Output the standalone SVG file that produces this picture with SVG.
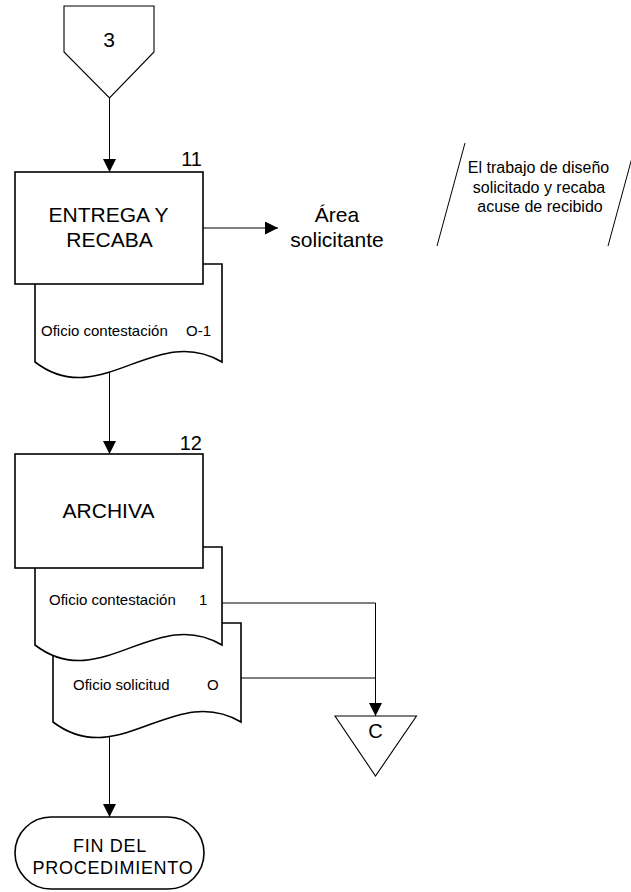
<svg xmlns="http://www.w3.org/2000/svg" width="631" height="892" viewBox="0 0 631 892">
  <style>
    text { font-family: "Liberation Sans", Arial, sans-serif; fill: #000; }
    .shape { fill: #fff; stroke: #000; stroke-width: 1.6; }
    .thin { fill: #fff; stroke: #000; stroke-width: 1.1; }
    .line { fill: none; stroke: #000; stroke-width: 1; }
    .big { font-size: 21px; text-anchor: middle; }
    .num { font-size: 20px; text-anchor: end; }
    .doc { font-size: 15px; }
    .note { font-size: 16px; text-anchor: middle; }
    .term { font-size: 18px; text-anchor: middle; letter-spacing: 0.7px; }
  </style>
  <defs>
    <marker id="arrow" markerUnits="userSpaceOnUse" markerWidth="14" markerHeight="14" refX="13" refY="6.5" orient="auto">
      <path d="M0,0 L13,6.5 L0,13 Z" fill="#000"/>
    </marker>
  </defs>

  <!-- connectors -->
  <g id="connectors">
    <line class="line" x1="109.5" y1="98" x2="109.5" y2="172" marker-end="url(#arrow)"/>
    <line class="line" x1="203" y1="228" x2="278" y2="228" marker-end="url(#arrow)"/>
    <line class="line" x1="109.5" y1="370" x2="109.5" y2="454" marker-end="url(#arrow)"/>
    <polyline class="line" points="222,603 375.5,603 375.5,716" marker-end="url(#arrow)"/>
    <line class="line" x1="241" y1="678" x2="375.5" y2="678"/>
    <line class="line" x1="109.5" y1="733" x2="109.5" y2="817" marker-end="url(#arrow)"/>
  </g>

  <!-- off-page connector 3 -->
  <g id="offpage-3">
    <polygon class="thin" points="64,6 154,6 154,52 109.5,98 64,52"/>
    <text class="big" x="109" y="47">3</text>
  </g>

  <!-- step 11 with its document -->
  <g id="doc-oficio-contestacion-o1">
    <path class="shape" d="M35,264 H222 V362 C155,322 100,412 35,362 Z"/>
    <text class="doc" x="41" y="336">Oficio contestación</text>
    <text class="doc" x="186" y="336">O-1</text>
  </g>
  <g id="step-11">
    <rect class="shape" x="15" y="172" width="188" height="112"/>
    <text class="num" x="202" y="166">11</text>
    <text class="big" x="108.5" y="222">ENTREGA Y</text>
    <text class="big" x="109.5" y="247">RECABA</text>
  </g>

  <g id="area-solicitante">
    <text class="big" x="337" y="222">Área</text>
    <text class="big" x="337" y="247">solicitante</text>
  </g>

  <!-- annotation -->
  <g id="annotation">
    <line class="line" x1="465" y1="143" x2="437" y2="246"/>
    <line class="line" x1="636" y1="143" x2="608" y2="246"/>
    <text class="note" x="538.5" y="173">El trabajo de diseño</text>
    <text class="note" x="539" y="192.5">solicitado y recaba</text>
    <text class="note" x="540" y="212">acuse de recibido</text>
  </g>

  <!-- step 12 with its documents -->
  <g id="doc-oficio-solicitud">
    <path class="shape" d="M53,623 H241 V722 C174,682 119,772 53,722 Z"/>
    <text class="doc" x="73" y="690">Oficio solicitud</text>
    <text class="doc" x="207" y="690">O</text>
  </g>
  <g id="doc-oficio-contestacion-1">
    <path class="shape" d="M35,547 H222 V645 C155,605 100,695 35,645 Z"/>
    <text class="doc" x="49" y="605">Oficio contestación</text>
    <text class="doc" x="199" y="605">1</text>
  </g>
  <g id="step-12">
    <rect class="shape" x="15" y="454" width="188" height="114"/>
    <text class="num" x="202" y="450">12</text>
    <text class="big" x="108.5" y="518">ARCHIVA</text>
  </g>

  <!-- archive -->
  <g id="archivo-c">
    <polygon class="thin" points="335,716 416.5,716 375.5,776"/>
    <text class="big" x="375.5" y="738" style="font-size:20px">C</text>
  </g>

  <!-- end -->
  <g id="fin">
    <rect class="shape" x="15" y="817" width="189" height="72" rx="36" ry="36"/>
    <text class="term" x="110" y="852">FIN DEL</text>
    <text class="term" x="113" y="874">PROCEDIMIENTO</text>
  </g>
</svg>
